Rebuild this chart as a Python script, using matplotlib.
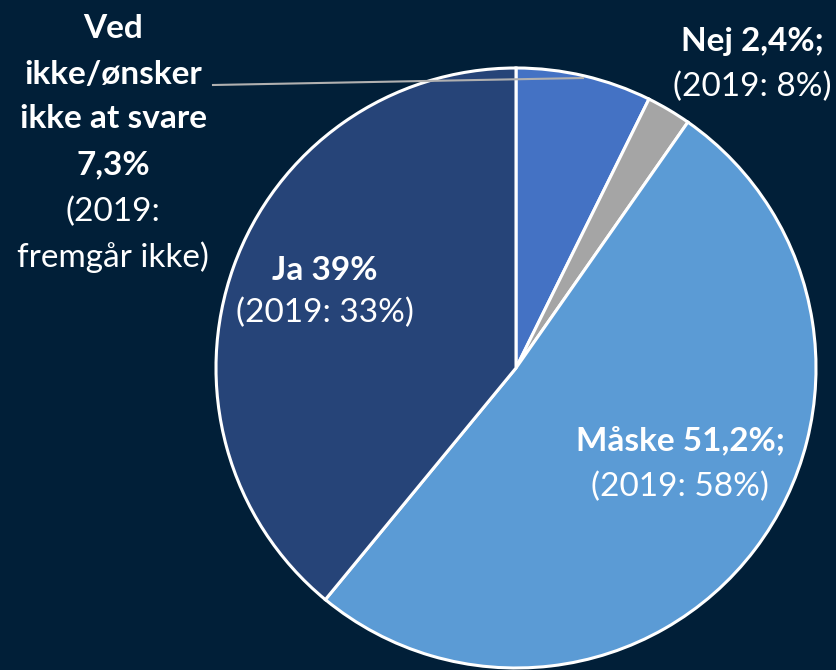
import numpy as np
import matplotlib
matplotlib.use('Agg')
import matplotlib.pyplot as plt
from matplotlib.lines import Line2D

# slices, clockwise from 12 o'clock
labels = ['Ved ikke/ønsker ikke at svare', 'Nej', 'Måske', 'Ja']
shares = [7.3, 2.4, 51.2, 39.0]
colors = ['#4472C4', '#A5A5A5', '#5B9BD5', '#264478']
bold_texts = ['Ved\nikke/ønsker\nikke at svare\n7,3%', 'Nej 2,4%;', 'Måske 51,2%;', 'Ja 39%']
sub_texts = ['(2019:\nfremgår ikke)', '(2019: 8%)', '(2019: 58%)', '(2019: 33%)']

BG = '#011F38'
W, H = 836, 670

plt.rcParams['font.family'] = ['Lato', 'DejaVu Sans']

fig = plt.figure(figsize=(W / 100, H / 100), dpi=100, facecolor=BG)


def fx(px):
    return px / W


def fy(py):
    return 1 - py / H


# pie axes: centre (516, 368), radius 300 px
cx, cy, r = 516, 368, 300
pad = 4
ax = fig.add_axes([fx(cx - r - pad), fy(cy + r + pad), (2 * (r + pad)) / W, (2 * (r + pad)) / H])
ax.set_facecolor(BG)
ax.pie(shares, colors=colors, startangle=90, counterclock=False,
       wedgeprops=dict(edgecolor='white', linewidth=2.2))
lim = (r + pad) / r
ax.set_xlim(-lim, lim)
ax.set_ylim(-lim, lim)
ax.set_aspect('equal')
ax.axis('off')

# leader line for the small slice label
fig.add_artist(Line2D([fx(213), fx(583)], [fy(85), fy(78)], transform=fig.transFigure,
                      color='#B0B0B0', linewidth=1.5))

fs = 24
# Ved ikke - one line at a time, reference has wide line gaps
ved_lines = bold_texts[0].split('\n') + sub_texts[0].split('\n')
ved_y = [28, 74, 119, 165, 212, 257]
for i, (line, y) in enumerate(zip(ved_lines, ved_y)):
    fig.text(fx(113), fy(y), line, ha='center', va='center', color='white',
             fontsize=fs, fontweight='bold' if i < 4 else 'normal')
# Nej
fig.text(fx(752), fy(42), bold_texts[1], ha='center', va='center', color='white',
         fontsize=fs, fontweight='bold')
fig.text(fx(752), fy(87), sub_texts[1], ha='center', va='center', color='white', fontsize=fs)
# Maaske
fig.text(fx(680), fy(440), bold_texts[2], ha='center', va='center', color='white',
         fontsize=fs, fontweight='bold')
fig.text(fx(680), fy(487), sub_texts[2], ha='center', va='center', color='white', fontsize=fs)
# Ja
fig.text(fx(325), fy(270), bold_texts[3], ha='center', va='center', color='white',
         fontsize=fs, fontweight='bold')
fig.text(fx(325), fy(313), sub_texts[3], ha='center', va='center', color='white', fontsize=fs)

fig.savefig('out.png', dpi=100, facecolor=BG)
